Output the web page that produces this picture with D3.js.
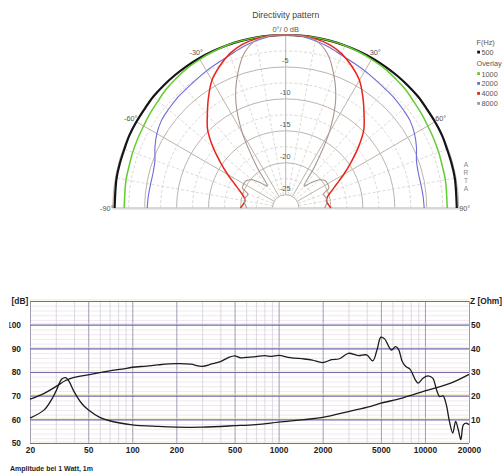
<!DOCTYPE html>
<html>
<head>
<meta charset="utf-8">
<script src="https://cdn.jsdelivr.net/npm/d3@7"></script>
<style>
  body { margin: 0; background: #fff; }
  svg { display: block; font-family: "Liberation Sans", Arial, sans-serif; }
</style>
</head>
<body>
<svg id="chart" width="502" height="473"></svg>
<script>
// ---------- directivity data (dB at angle, right half, mirrored) ----------
const polarAngles = [0, 5, 10, 15, 20, 25, 30, 35, 40, 45, 50, 55, 60, 65, 70, 75, 80, 85, 90];
const polarFreqs = [500, 1000, 2000, 4000, 8000];
const dir500  = [0, 0, 0, 0, 0, 0, 0, 0, 0, 0, 0, -0.1, -0.1, -0.1, -0.2, -0.2, -0.2, -0.3, -0.3];
const dir1000 = [0, 0, 0, 0, 0, -0.1, -0.2, -0.3, -0.5, -0.7, -1.0, -1.2, -1.4, -1.5, -1.6, -1.7, -1.7, -1.8, -1.8];
const dir2000 = [0, -0.1, -0.5, -1.0, -1.6, -2.0, -2.3, -2.6, -2.8, -2.9, -3.1, -3.3, -3.8, -4.5, -5.3, -5.6, -5.6, -5.5, -5.4];
const dir4000 = [0, 0, -0.2, -0.6, -1.4, -2.6, -4.0, -6.0, -8.0, -9.8, -12.2, -14.6, -16.6, -18.3, -19.5, -20.3, -20.6, -20.4, -20.0];
const dir8000 = [0, 0, -0.4, -2.0, -5.0, -8.6, -13.5, -19.2, -22.6, -21.5, -20.2, -19.6, -19.5, -19.6, -20.8, -20.6, -20.5, -20.7, -21.0];
const ringLabels = [-5, -10, -15, -20, -25];
const angleLabels = [-90, -60, -30, 30, 60, 90];

// ---------- frequency response data ----------
const freqTicks = [20, 50, 100, 200, 500, 1000, 2000, 5000, 10000, 20000];
const dbTicks = [50, 60, 70, 80, 90, 100];
const ohmTicks = [10, 20, 30, 40, 50];
const splFreq = [20, 25, 30, 35, 40, 50, 60, 70, 85, 100, 125, 150, 200, 250, 300, 350, 400, 450, 500, 550,
  600, 700, 800, 900, 1000, 1200, 1500, 1700, 2000, 2300, 2600, 3000, 3500, 4000, 4400, 4700, 5000, 5300,
  5900, 6300, 6600, 7000, 7400, 7900, 8600, 9000, 9700, 10500, 11300, 12000, 12600, 13300, 14000, 14700,
  15500, 16200, 16900, 17600, 18300, 19200, 20000];
const splDb = [68.5, 71.0, 73.8, 76.4, 77.7, 78.8, 79.7, 80.5, 81.2, 82.0, 82.5, 83.0, 83.5, 83.3, 82.4, 83.4,
  84.4, 86.0, 86.8, 86.0, 86.2, 86.5, 86.9, 86.6, 87.0, 86.1, 85.5, 85.0, 84.0, 85.2, 85.6, 87.9, 86.9, 87.2,
  84.7, 89.3, 94.7, 94.0, 89.3, 90.7, 89.6, 84.4, 82.3, 81.2, 76.7, 75.3, 77.4, 78.4, 77.4, 72.5, 69.6, 69.9,
  66.1, 59.1, 54.2, 59.1, 55.6, 51.4, 57.7, 58.4, 57.7];
const impFreq = [20, 25, 28, 30, 33, 35, 37, 40, 45, 50, 60, 70, 100, 150, 200, 300, 500, 700, 1000, 2000,
  3000, 4200, 5000, 7000, 10000, 15000, 20000];
const impOhm = [10.5, 14.0, 18.2, 21.7, 27.0, 27.6, 26.0, 21.7, 16.8, 14.0, 10.8, 9.4, 7.7, 7.0, 6.7, 6.7,
  7.3, 7.8, 8.8, 10.8, 13.3, 15.4, 16.8, 19.0, 22.0, 25.3, 29.0];

// ---------- styles ----------
const polarStyle = {
  500:  { color: "#141414", width: 2.2 },
  1000: { color: "#62cc30", width: 1.5 },
  2000: { color: "#6c6cd6", width: 1.1 },
  4000: { color: "#ea2418", width: 1.5 },
  8000: { color: "#a8948c", width: 1.1 }
};
const dirValues = { 500: dir500, 1000: dir1000, 2000: dir2000, 4000: dir4000, 8000: dir8000 };

const svg = d3.select("#chart");
const rad = d => d * Math.PI / 180;

// ================= polar chart =================
const cx = 285.7, cy = 208, R = 173;
const rScale = d3.scaleLinear().domain([-27.08, 0]).range([0, R]);
const pg = svg.append("g").attr("transform", `translate(${cx},${cy})`);

const halfRing = r => {
  const p = d3.path();
  p.moveTo(-r, 0);
  p.arc(0, 0, r, Math.PI, 2 * Math.PI);
  return p.toString();
};

// dashed intermediate rings
pg.selectAll(".ring-minor")
  .data(d3.range(-22.5, 0, 5))
  .join("path")
  .attr("d", d => halfRing(rScale(d)))
  .attr("fill", "none")
  .attr("stroke", "#d2cdc8")
  .attr("stroke-dasharray", "3,2")
  .attr("stroke-width", 0.8);

// radial lines
const radials = d3.range(-90, 91, 10);
pg.selectAll(".radial")
  .data(radials)
  .join("line")
  .attr("x1", d => rScale(-25) * Math.sin(rad(d)))
  .attr("y1", d => -rScale(-25) * Math.cos(rad(d)))
  .attr("x2", d => R * Math.sin(rad(d)))
  .attr("y2", d => -R * Math.cos(rad(d)))
  .attr("stroke", d => d % 30 === 0 ? "#bdb4ac" : "#d6d1cc")
  .attr("stroke-dasharray", d => d % 30 === 0 ? null : "3,2")
  .attr("stroke-width", d => d % 30 === 0 ? 1 : 0.8);

// solid rings
pg.selectAll(".ring-major")
  .data(d3.range(-25, 0.1, 5))
  .join("path")
  .attr("d", d => halfRing(rScale(d)))
  .attr("fill", "none")
  .attr("stroke", "#bdb4ac")
  .attr("stroke-width", 1);

// baseline
pg.append("line")
  .attr("x1", -R).attr("x2", R + 2)
  .attr("y1", 0.5).attr("y2", 0.5)
  .attr("stroke", "#d6d6d6")
  .attr("stroke-width", 2);

// ring labels
pg.selectAll(".ring-label")
  .data(ringLabels)
  .join("text")
  .attr("x", -0.5)
  .attr("y", d => -rScale(d) - 3.5)
  .attr("text-anchor", "middle")
  .attr("font-size", 7.3)
  .attr("fill", "#555")
  .text(d => d);

// angle labels
pg.selectAll(".angle-label")
  .data(angleLabels)
  .join("text")
  .attr("x", d => 179 * Math.sin(rad(d)))
  .attr("y", d => -179 * Math.cos(rad(d)) + 2.5)
  .attr("text-anchor", "middle")
  .attr("font-size", 7.3)
  .attr("fill", "#555")
  .text(d => d + "\u00b0");

pg.append("text")
  .attr("x", 0).attr("y", -R - 3)
  .attr("text-anchor", "middle")
  .attr("font-size", 7.4)
  .attr("fill", "#555")
  .text("0\u00b0/ 0 dB");

svg.append("text")
  .attr("x", cx).attr("y", 18)
  .attr("text-anchor", "middle")
  .attr("font-size", 8.7)
  .attr("fill", "#444")
  .text("Directivity pattern");

// curves
const radialLine = d3.lineRadial()
  .angle(d => rad(d[0]))
  .radius(d => rScale(d[1]))
  .curve(d3.curveCatmullRom.alpha(0.5));

polarFreqs.forEach(f => {
  const vals = dirValues[f];
  const left = polarAngles.slice(1).map((a, i) => [-a, vals[i + 1]]).reverse();
  const right = polarAngles.map((a, i) => [a, vals[i]]);
  pg.append("path")
    .datum(left.concat(right))
    .attr("d", radialLine)
    .attr("fill", "none")
    .attr("stroke", polarStyle[f].color)
    .attr("stroke-width", polarStyle[f].width)
    .attr("stroke-linejoin", "round");
});

// legend
const lg = svg.append("g").attr("font-size", 7.3).attr("fill", "#555");
lg.append("text").attr("x", 476.5).attr("y", 45.3).text("F(Hz)");
lg.append("text").attr("x", 476.5).attr("y", 66).text("Overlay");
const legendY = { 500: 55, 1000: 76.5, 2000: 86.3, 4000: 96.3, 8000: 106.3 };
polarFreqs.forEach(f => {
  lg.append("rect")
    .attr("x", 477.2).attr("y", legendY[f] - 4.3)
    .attr("width", 2.8).attr("height", 2.8)
    .attr("fill", polarStyle[f].color);
  lg.append("text").attr("x", 481.5).attr("y", legendY[f]).text(f);
});

// ARTA vertical letters
svg.append("g")
  .selectAll("text")
  .data(["A", "R", "T", "A"])
  .join("text")
  .attr("x", 466)
  .attr("y", (d, i) => 166.5 + i * 8.2)
  .attr("text-anchor", "middle")
  .attr("font-size", 6.6)
  .attr("fill", "#888")
  .text(d => d);

// ================= frequency response chart =================
const x = d3.scaleLog().domain([20, 20000]).range([30, 469]);
const yDb = d3.scaleLinear().domain([50, 110]).range([443, 301]);
const yZ = d3.scaleLinear().domain([0, 60]).range([443, 301]);
const plotH = 443 - 301, plotW = 469 - 30;

const allFreqs = [];
[10, 100, 1000, 10000].forEach(dec => {
  for (let k = 1; k <= 9; k++) {
    const v = dec * k;
    if (v >= 20 && v <= 20000) allFreqs.push(v);
  }
});
const minorFreqs = allFreqs.filter(v => !freqTicks.includes(v));

// minor horizontal grid
svg.append("g")
  .attr("transform", "translate(30,0)")
  .call(d3.axisLeft(yDb).tickValues(d3.range(52, 110, 2).filter(v => v % 10 !== 0)).tickSize(-plotW).tickFormat(""))
  .call(g => g.select(".domain").remove())
  .call(g => g.selectAll("line").attr("stroke", "#ece2ea").attr("stroke-width", 0.8));

// minor vertical grid
svg.append("g")
  .attr("transform", "translate(0,443)")
  .call(d3.axisBottom(x).tickValues(minorFreqs).tickSize(-plotH).tickFormat(""))
  .call(g => g.select(".domain").remove())
  .call(g => g.selectAll("line").attr("stroke", "#d8d5de").attr("stroke-width", 0.9));

// labelled vertical grid
svg.append("g")
  .attr("transform", "translate(0,443)")
  .call(d3.axisBottom(x).tickValues(freqTicks).tickSize(-plotH).tickFormat(""))
  .call(g => g.select(".domain").remove())
  .call(g => g.selectAll("line").attr("stroke", "#a09cb2").attr("stroke-width", 1));

// major horizontal grid: faint yellow fringe + purple line
svg.append("g")
  .attr("transform", "translate(30,-1.6)")
  .call(d3.axisLeft(yDb).tickValues(d3.range(50, 111, 10)).tickSize(-plotW).tickFormat(""))
  .call(g => g.select(".domain").remove())
  .call(g => g.selectAll("line").attr("stroke", "#efe4b4").attr("stroke-width", 0.7));
svg.append("g")
  .attr("transform", "translate(30,0)")
  .call(d3.axisLeft(yDb).tickValues(d3.range(50, 111, 10)).tickSize(-plotW).tickFormat(""))
  .call(g => g.select(".domain").remove())
  .call(g => g.selectAll("line").attr("stroke", "#7468b0").attr("stroke-width", 1.2));

// curves
const splLine = d3.line()
  .x((d, i) => x(splFreq[i]))
  .y(d => yDb(d))
  .curve(d3.curveCatmullRom.alpha(0.5));
const impLine = d3.line()
  .x((d, i) => x(impFreq[i]))
  .y(d => yZ(d))
  .curve(d3.curveCatmullRom.alpha(0.5));

svg.append("path")
  .datum(impOhm)
  .attr("d", impLine)
  .attr("fill", "none")
  .attr("stroke", "#1c1c1c")
  .attr("stroke-width", 1.3);
svg.append("path")
  .datum(splDb)
  .attr("d", splLine)
  .attr("fill", "none")
  .attr("stroke", "#1c1c1c")
  .attr("stroke-width", 1.3);

// axes labels
const axisFont = g => g.selectAll("text")
  .attr("font-family", "'Liberation Sans', Arial, sans-serif")
  .attr("font-size", 8.4)
  .attr("font-weight", "bold")
  .attr("fill", "#1e1e1e");

svg.append("g")
  .attr("transform", "translate(0,443)")
  .call(d3.axisBottom(x).tickValues(freqTicks).tickSize(0).tickPadding(4).tickFormat(d3.format("d")))
  .call(g => g.select(".domain").remove())
  .call(axisFont);

svg.append("clipPath").attr("id", "leftClip")
  .append("rect").attr("x", 9.3).attr("y", 280).attr("width", 40).attr("height", 180);

svg.append("g")
  .attr("clip-path", "url(#leftClip)")
  .append("g")
  .attr("transform", "translate(30,0)")
  .call(d3.axisLeft(yDb).tickValues(dbTicks).tickSize(0).tickPadding(9).tickFormat(d3.format("d")))
  .call(g => g.select(".domain").remove())
  .call(axisFont);

svg.append("g")
  .attr("transform", "translate(469,0)")
  .call(d3.axisRight(yZ).tickValues(ohmTicks).tickSize(0).tickPadding(2).tickFormat(d3.format("d")))
  .call(g => g.select(".domain").remove())
  .call(axisFont);

svg.append("text")
  .attr("x", 11.5).attr("y", 304)
  .attr("font-size", 8.4).attr("font-weight", "bold").attr("fill", "#1e1e1e")
  .text("[dB]");
svg.append("text")
  .attr("x", 470).attr("y", 304)
  .attr("font-size", 8.4).attr("font-weight", "bold").attr("fill", "#1e1e1e")
  .text("Z [Ohm]");

svg.append("text")
  .attr("x", 10).attr("y", 471)
  .attr("font-size", 7).attr("font-weight", "bold").attr("fill", "#1e1e1e")
  .text("Amplitude bei 1 Watt, 1m");
</script>
</body>
</html>
